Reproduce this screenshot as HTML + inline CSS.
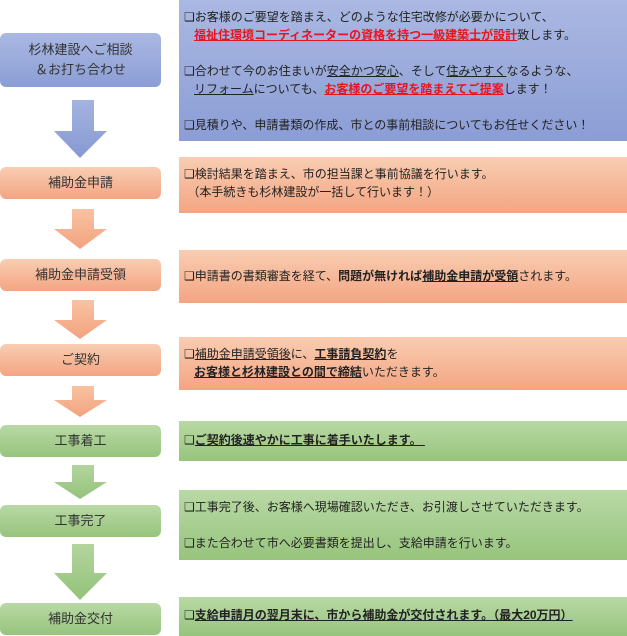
<!DOCTYPE html>
<html><head><meta charset="utf-8"><style>
body{margin:0;width:627px;height:636px;background:#fff;position:relative;overflow:hidden;font-family:"Liberation Sans","Noto Sans CJK JP",sans-serif;}
.b{position:absolute;box-sizing:border-box;}
.l{left:0;width:161px;border-radius:6px;color:#333;font-size:13px;text-align:center;display:flex;align-items:center;justify-content:center;line-height:20px;}
.r{left:179px;width:448px;font-size:12px;color:#222;padding-left:5px;line-height:18px;}
.blue{background:linear-gradient(#aab8e2,#8b9dd5);}
.or{background:linear-gradient(#f9cdb2,#f3a582);}
.gr{background:linear-gradient(#b9d9a5,#97c47d);}
.red{color:#e8141e;font-weight:bold;text-decoration:underline;}
u{text-decoration:underline;}
.bu{font-weight:bold;text-decoration:underline;}
p{margin:0;white-space:nowrap;}
svg{position:absolute;left:0;top:0;}
</style></head><body>
<svg width="627" height="636">
<defs>
<linearGradient id="gb" x1="0" y1="0" x2="0" y2="1"><stop offset="0" stop-color="#a4b3df"/><stop offset="1" stop-color="#8799d3"/></linearGradient>
<linearGradient id="go" x1="0" y1="0" x2="0" y2="1"><stop offset="0" stop-color="#f8c3a3"/><stop offset="1" stop-color="#f3a27e"/></linearGradient>
<linearGradient id="gg" x1="0" y1="0" x2="0" y2="1"><stop offset="0" stop-color="#b3d59d"/><stop offset="1" stop-color="#94c27a"/></linearGradient>
</defs>
<polygon points="72,100 94,100 94,131 107,131 80,158 54,131 72,131" fill="url(#gb)"/>
<polygon points="72,209 94,209 94,229 107,229 80,249 54,229 72,229" fill="url(#go)"/>
<polygon points="72,300 94,300 94,320 107,320 80,339 54,320 72,320" fill="url(#go)"/>
<polygon points="72,386 94,386 94,400 107,400 80,417 54,400 72,400" fill="url(#go)"/>
<polygon points="72,465 94,465 94,482 107,482 80,499 54,482 72,482" fill="url(#gg)"/>
<polygon points="72,544 94,544 94,573 107,573 80,600 54,573 72,573" fill="url(#gg)"/>
</svg>
<div class="b l blue" style="top:33px;height:54px;">杉林建設へご相談<br>＆お打ち合わせ</div>
<div class="b l or" style="top:167px;height:32px;">補助金申請</div>
<div class="b l or" style="top:259px;height:32px;">補助金申請受領</div>
<div class="b l or" style="top:344px;height:32px;">ご契約</div>
<div class="b l gr" style="top:425px;height:32px;">工事着工</div>
<div class="b l gr" style="top:505px;height:32px;">工事完了</div>
<div class="b l gr" style="top:603px;height:32px;">補助金交付</div>

<div class="b r blue" style="top:0;height:141px;padding-top:8px;">
<p>❑お客様のご要望を踏まえ、どのような住宅改修が必要かについて、</p>
<p>&nbsp;&nbsp;&nbsp;<span class="red">福祉住環境コーディネーターの資格を持つ一級建築士が設計</span>致します。</p>
<p>&nbsp;</p>
<p>❑合わせて今のお住まいが<u>安全かつ安心</u>、そして<u>住みやすく</u>なるような、</p>
<p>&nbsp;&nbsp;&nbsp;<u>リフォーム</u>についても、<span class="red">お客様のご要望を踏まえてご提案</span>します！</p>
<p>&nbsp;</p>
<p>❑見積りや、申請書類の作成、市との事前相談についてもお任せください！</p>
</div>
<div class="b r or" style="top:157px;height:56px;padding-top:8px;">
<p>❑検討結果を踏まえ、市の担当課と事前協議を行います。</p>
<p>&nbsp;（本手続きも杉林建設が一括して行います！）</p>
</div>
<div class="b r or" style="top:250px;height:53px;padding-top:17px;">
<p>❑申請書の書類審査を経て、<b>問題が無ければ</b><span class="bu">補助金申請が受領</span>されます。</p>
</div>
<div class="b r or" style="top:337px;height:53px;padding-top:8px;">
<p>❑<u>補助金申請受領後</u>に、<span class="bu">工事請負契約</span>を</p>
<p>&nbsp;&nbsp;&nbsp;<span class="bu">お客様と杉林建設との間で締結</span>いただきます。</p>
</div>
<div class="b r gr" style="top:421px;height:40px;padding-top:10px;">
<p>❑<span class="bu">ご契約後速やかに工事に着手いたします。&nbsp;</span></p>
</div>
<div class="b r gr" style="top:490px;height:70px;padding-top:8px;">
<p>❑工事完了後、お客様へ現場確認いただき、お引渡しさせていただきます。</p>
<p>&nbsp;</p>
<p>❑また合わせて市へ必要書類を提出し、支給申請を行います。</p>
</div>
<div class="b r gr" style="top:597px;height:39px;padding-top:9px;">
<p>❑<span class="bu">支給申請月の翌月末に、市から補助金が交付されます。（最大20万円）</span></p>
</div>
</body></html>
